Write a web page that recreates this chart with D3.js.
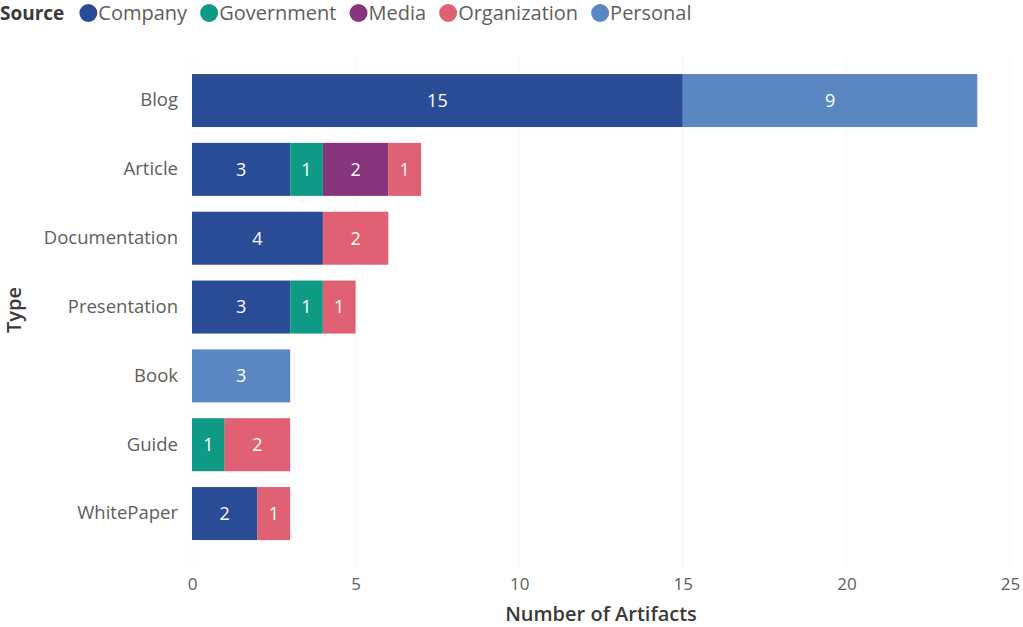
<!DOCTYPE html>
<html>
<head>
<meta charset="utf-8">
<script src="https://cdn.jsdelivr.net/npm/d3@7"></script>
<style>
  body { margin: 0; background: #fff; }
  text { font-family: "Open Sans", "Segoe UI", sans-serif; }
</style>
</head>
<body>
<div id="chart"></div>
<script>
// Chart data
const types = ["Blog", "Article", "Documentation", "Presentation", "Book", "Guide", "WhitePaper"];
const sources = ["Company", "Government", "Media", "Organization", "Personal"];
const company      = [15, 3, 4, 3, 0, 0, 2];
const government   = [0, 1, 0, 1, 0, 1, 0];
const media        = [0, 2, 0, 0, 0, 0, 0];
const organization = [0, 1, 2, 1, 0, 2, 1];
const personal     = [9, 0, 0, 0, 3, 0, 0];
const xTicks = [0, 5, 10, 15, 20, 25];

const colors = ["#2A4B96", "#0F9A86", "#86347B", "#E06074", "#5A86C1"];

const seriesValues = [company, government, media, organization, personal];
const table = types.map((t, i) => {
    const row = { Type: t };
    sources.forEach((s, j) => { row[s] = seriesValues[j][i]; });
    return row;
});

const width = 1023, height = 627;
const svg = d3.select("#chart").append("svg")
    .attr("width", width)
    .attr("height", height);

const x = d3.scaleLinear().domain([0, 25]).range([192, 1010]);
const y = d3.scaleBand()
    .domain(types)
    .range([53.4, 560.7])
    .paddingInner(0.23)
    .paddingOuter(0.3);
const color = d3.scaleOrdinal().domain(sources).range(colors);

// Gridlines
svg.append("g")
    .selectAll("line")
    .data(xTicks)
    .enter()
    .append("line")
    .attr("x1", d => x(d))
    .attr("x2", d => x(d))
    .attr("y1", 58)
    .attr("y2", 570)
    .attr("stroke", "#e2e2e2")
    .attr("stroke-width", 1)
    .attr("stroke-dasharray", "1,3");

// X axis tick labels
const xAxis = svg.append("g")
    .attr("transform", "translate(0,578)")
    .call(d3.axisBottom(x).tickValues(xTicks).tickSize(0).tickPadding(0));
xAxis.select(".domain").remove();
xAxis.selectAll("text")
    .attr("dy", "0.71em")
    .style("font-size", "17px")
    .style("font-family", "'Open Sans', sans-serif")
    .attr("fill", "#605E5C");

// Y axis labels
const yAxis = svg.append("g")
    .attr("transform", "translate(178,0)")
    .call(d3.axisLeft(y).tickSize(0).tickPadding(0));
yAxis.select(".domain").remove();
yAxis.selectAll("text")
    .style("font-size", "18.5px")
    .style("font-family", "'Open Sans', sans-serif")
    .attr("fill", "#605E5C");

// Axis titles
svg.append("text")
    .attr("x", x(12.5))
    .attr("y", 621)
    .attr("text-anchor", "middle")
    .attr("fill", "#3b3a39")
    .style("font-size", "20px")
    .style("font-weight", "600")
    .text("Number of Artifacts");

svg.append("text")
    .attr("transform", "rotate(-90)")
    .attr("x", -310)
    .attr("y", 21)
    .attr("text-anchor", "middle")
    .attr("fill", "#3b3a39")
    .style("font-size", "20px")
    .style("font-weight", "600")
    .text("Type");

// Stacked bars
const stacked = d3.stack().keys(sources)(table);

const layers = svg.append("g")
    .selectAll("g")
    .data(stacked)
    .enter()
    .append("g")
    .attr("fill", d => color(d.key));

layers.selectAll("rect")
    .data(d => d.filter(p => p[1] - p[0] > 0))
    .enter()
    .append("rect")
    .attr("x", d => x(d[0]))
    .attr("y", d => y(d.data.Type))
    .attr("width", d => x(d[1]) - x(d[0]))
    .attr("height", y.bandwidth());

layers.selectAll("text")
    .data(d => d.filter(p => p[1] - p[0] > 0))
    .enter()
    .append("text")
    .attr("x", d => (x(d[0]) + x(d[1])) / 2)
    .attr("y", d => y(d.data.Type) + y.bandwidth() / 2)
    .attr("dy", "0.35em")
    .attr("text-anchor", "middle")
    .attr("fill", "#fff")
    .style("font-size", "18px")
    .text(d => d[1] - d[0]);

// Legend (laid out from text widths)
const legend = svg.append("g").attr("transform", "translate(0,13)");
const title = legend.append("text")
    .attr("x", 0)
    .attr("y", 0)
    .attr("dy", "0.35em")
    .attr("fill", "#3b3a39")
    .style("font-size", "19px")
    .style("font-weight", "700")
    .text("Source");

let cursor = title.node().getComputedTextLength() + 15;
sources.forEach(s => {
    legend.append("circle")
        .attr("cx", cursor + 9)
        .attr("cy", 0)
        .attr("r", 9)
        .attr("fill", color(s));
    const t = legend.append("text")
        .attr("x", cursor + 19)
        .attr("y", 0)
        .attr("dy", "0.35em")
        .attr("fill", "#605E5C")
        .style("font-size", "20px")
        .text(s);
    cursor += 19 + t.node().getComputedTextLength() + 13;
});
</script>
</body>
</html>
